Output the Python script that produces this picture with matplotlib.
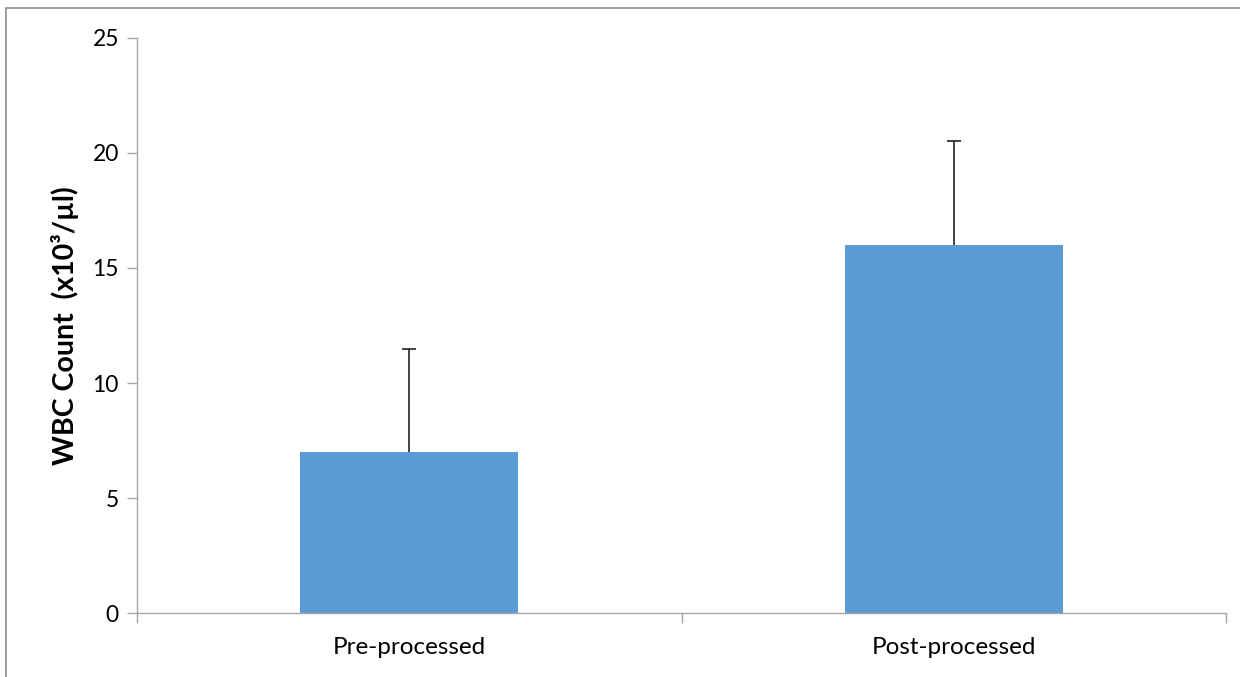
import matplotlib.pyplot as plt
from matplotlib.patches import Rectangle

categories = ['Pre-processed', 'Post-processed']
wbc_mean = [7.0, 16.0]
wbc_err = [4.5, 4.5]
y_ticks = [0, 5, 10, 15, 20, 25]

plt.rcParams['font.family'] = ['Lato', 'DejaVu Sans']

fig = plt.figure(figsize=(12.4, 6.77), dpi=100)
ax = fig.add_axes([0.1105, 0.0945, 0.8782, 0.8494])

x = list(range(len(categories)))
ax.bar(x, wbc_mean, width=0.4, color='#5B9BD5', zorder=2)
eb = ax.errorbar(x, wbc_mean, yerr=[[0, 0], wbc_err], fmt='none', ecolor='#222222',
                 elinewidth=1.2, capsize=4.7, capthick=1.2, zorder=3)
# only the upper cap is drawn in the original
for cap in eb[1]:
    if list(cap.get_ydata()) == wbc_mean:
        cap.set_visible(False)

ax.set_xlim(-0.5, 1.5)
ax.set_ylim(0, 25)
ax.set_yticks(y_ticks)
ax.set_xticks(x)
ax.set_xticklabels(categories, fontsize=17.5)
ax.set_xticks([-0.5, 0.5, 1.5], minor=True)
ax.tick_params(axis='x', which='major', length=0, pad=17)
ax.tick_params(axis='x', which='minor', length=7, color='#a6a6a6', width=1)
ax.tick_params(axis='y', length=7, color='#a6a6a6', width=1, labelsize=16.5, pad=6)

for s in ['top', 'right']:
    ax.spines[s].set_visible(False)
for s in ['left', 'bottom']:
    ax.spines[s].set_color('#a6a6a6')
    ax.spines[s].set_linewidth(1)

ax.set_ylabel('WBC Count  (x10³/µl)', fontsize=20.5, fontweight='bold')
ax.yaxis.set_label_coords(-0.053, 0.5)

# chart area border (partly cropped in the original)
fig.patches.append(Rectangle((6 / 1240, -0.1), 1.2, 1 - 8 / 677 + 0.1,
                             transform=fig.transFigure, fill=False,
                             edgecolor='#8c8c8c', linewidth=1.2))

fig.savefig('out.png', dpi=100)
